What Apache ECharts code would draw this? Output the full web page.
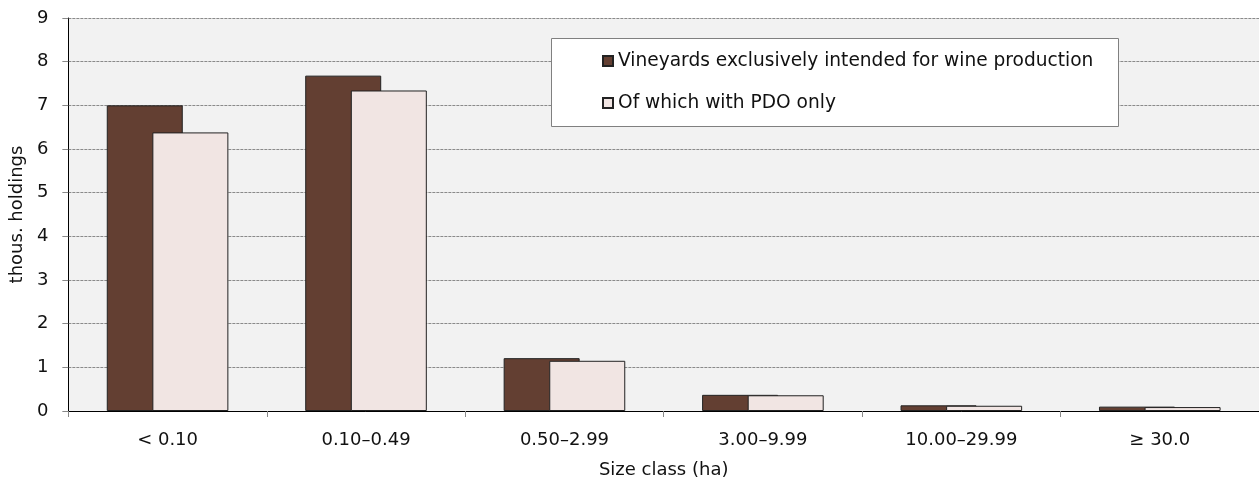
<!DOCTYPE html>
<html>
<head>
<meta charset="UTF-8"/>
<title>Vineyards by size class</title>
<script src="https://cdn.jsdelivr.net/npm/echarts@6/dist/echarts.min.js"></script>
<style>
  html, body { margin: 0; padding: 0; background: #fff; }
  #chart { width: 1259px; height: 484px; }
</style>
</head>
<body>
<div id="chart"></div>
<script type="text/javascript">
    var sizeClasses = ['< 0.10', '0.10\u20130.49', '0.50\u20132.99', '3.00\u20139.99', '10.00\u201329.99', '\u2265 30.0'];
    var wineOnly = [7.0, 7.68, 1.21, 0.37, 0.13, 0.10];
    var pdoOnly = [6.38, 7.34, 1.15, 0.36, 0.12, 0.09];
    var seriesNames = ['Vineyards exclusively intended for wine production', 'Of which with PDO only'];

    var font = '"DejaVu Sans", "Liberation Sans", Arial, sans-serif';
    var chart = echarts.init(document.getElementById('chart'));

    chart.setOption({
        animation: false,
        textStyle: { fontFamily: font },
        grid: {
            left: 68, right: 0, top: 18, bottom: 72,
            show: true, backgroundColor: '#f2f2f2', borderWidth: 0
        },
        // legend frame
        graphic: [{
            type: 'rect',
            left: 551, top: 38, z: 5,
            shape: { width: 567, height: 88 },
            style: { fill: '#ffffff', stroke: '#808080', lineWidth: 1 }
        }],
        legend: {
            orient: 'vertical',
            left: 602, top: 51, z: 10, padding: 0,
            itemWidth: 10, itemHeight: 10, itemGap: 22,
            icon: 'rect',
            textStyle: { fontFamily: font, fontSize: 18.6, lineHeight: 20, color: '#111' },
            data: seriesNames
        },
        xAxis: {
            type: 'category',
            data: sizeClasses,
            name: 'Size class (ha)',
            nameLocation: 'middle',
            nameGap: 50,
            nameTextStyle: { fontFamily: font, fontSize: 18, color: '#111' },
            axisLine: { lineStyle: { color: '#000', width: 1 } },
            axisTick: { show: true, length: 6, lineStyle: { color: '#888' } },
            axisLabel: { fontFamily: font, fontSize: 18, color: '#111', margin: 20 }
        },
        yAxis: {
            type: 'value',
            min: 0, max: 9, interval: 1,
            name: 'thous. holdings',
            nameLocation: 'middle',
            nameGap: 41,
            nameTextStyle: { fontFamily: font, fontSize: 18, color: '#111' },
            axisLine: { show: true, lineStyle: { color: '#000', width: 1 } },
            axisTick: { show: true, length: 6, lineStyle: { color: '#888' } },
            axisLabel: { fontFamily: font, fontSize: 18, color: '#111', margin: 20 },
            splitLine: { show: true, lineStyle: { color: '#8a8a8a', type: [3, 1], width: 1 } }
        },
        series: [
            {
                name: seriesNames[0],
                type: 'bar',
                data: wineOnly,
                barWidth: 76,
                barGap: '-40%',
                itemStyle: { color: '#633f32', borderColor: '#222', borderWidth: 1 }
            },
            {
                name: seriesNames[1],
                type: 'bar',
                data: pdoOnly,
                barWidth: 76,
                itemStyle: { color: '#f1e5e3', borderColor: '#222', borderWidth: 1 }
            }
        ]
    });
</script>
</body>
</html>
